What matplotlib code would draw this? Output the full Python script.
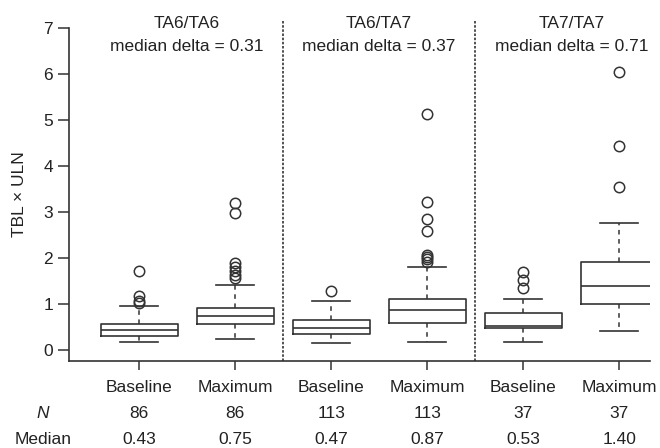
import matplotlib
matplotlib.use("Agg")
import matplotlib.pyplot as plt
from matplotlib.transforms import blended_transform_factory

plt.rcParams['font.family'] = ['Liberation Sans', 'DejaVu Sans']

groups = ["TA6/TA6", "TA6/TA7", "TA7/TA7"]
median_deltas = [0.31, 0.37, 0.71]
box_labels = ["Baseline", "Maximum", "Baseline", "Maximum", "Baseline", "Maximum"]
n_values = [86, 86, 113, 113, 37, 37]
medians = [0.43, 0.75, 0.47, 0.87, 0.53, 1.40]
q1 = [0.30, 0.565, 0.34, 0.59, 0.47, 1.00]
q3 = [0.565, 0.92, 0.645, 1.10, 0.80, 1.91]
whislo = [0.17, 0.245, 0.145, 0.17, 0.17, 0.41]
whishi = [0.96, 1.41, 1.06, 1.80, 1.12, 2.77]
outliers = [
    [1.03, 1.07, 1.17, 1.71],
    [1.56, 1.63, 1.72, 1.81, 1.90, 2.97, 3.20],
    [1.29],
    [1.92, 1.97, 2.02, 2.07, 2.59, 2.85, 3.21, 5.13],
    [1.35, 1.53, 1.70],
    [3.54, 4.44, 6.05],
]
yticks = [0, 1, 2, 3, 4, 5, 6, 7]

W, H = 660, 448
fig = plt.figure(figsize=(W / 100, H / 100), dpi=100)
ax = fig.add_axes([69 / W, 1 - 360.7 / H, (650 - 69) / W, (360.7 - 18.8) / H])

col = "#333333"
tcol = "#222222"
fs = 12.5
stats = []
for i in range(len(medians)):
    stats.append(dict(med=medians[i], q1=q1[i], q3=q3[i], whislo=whislo[i],
                      whishi=whishi[i], fliers=outliers[i]))
positions = list(range(1, len(medians) + 1))
ax.bxp(stats, positions=positions, widths=0.8, capwidths=0.4, showfliers=True,
       boxprops=dict(color=col, lw=1.2),
       medianprops=dict(color=col, lw=1.2),
       whiskerprops=dict(color=col, lw=1.1, linestyle=(0, (3, 3))),
       capprops=dict(color=col, lw=1.2),
       flierprops=dict(marker='o', markersize=7.5, markerfacecolor='none',
                       markeredgecolor=col, markeredgewidth=1.1))

ax.set_xlim(0.27, 6.32)
ax.set_ylim(-0.23, 7.2)
ax.set_yticks(yticks)
ax.set_yticklabels([str(t) for t in yticks])
ax.set_xticks(positions)
ax.set_xticklabels([])
ax.tick_params(axis='y', length=8, width=1.1, color=col, labelsize=fs, pad=3.5, labelcolor=tcol)
ax.tick_params(axis='x', length=6.5, width=1.1, color=col)
for s in ['top', 'right']:
    ax.spines[s].set_visible(False)
ax.spines['left'].set_bounds(-0.23, 7)
for s in ['left', 'bottom']:
    ax.spines[s].set_color(col)
    ax.spines[s].set_linewidth(1.2)

# group separators
for xs in [2.5, 4.5]:
    ax.vlines(xs, -0.23, 7.17, colors=col, linestyles=(0, (1.5, 1)), lw=1.2, clip_on=False)

# group titles
for g, (name, d) in enumerate(zip(groups, median_deltas)):
    xc = 1.5 + 2 * g
    ax.text(xc, 7.09, name, ha='center', va='center', fontsize=fs, color=tcol, clip_on=False)
    ax.text(xc, 6.59, f"median delta = {d:.2f}", ha='center', va='center', fontsize=fs,
            color=tcol)

tr = blended_transform_factory(ax.transData, fig.transFigure)
row_y = [1 - 391.5 / H, 1 - 417.5 / H, 1 - 443.8 / H]
for i, p in enumerate(positions):
    ax.text(p, row_y[0], box_labels[i], ha='center', va='baseline', fontsize=fs,
            color=tcol, transform=tr)
    ax.text(p, row_y[1], str(n_values[i]), ha='center', va='baseline', fontsize=fs,
            color=tcol, transform=tr)
    ax.text(p, row_y[2], f"{medians[i]:.2f}", ha='center', va='baseline', fontsize=fs,
            color=tcol, transform=tr)

fig.text(43 / W, row_y[1], "N", ha='center', va='baseline', fontsize=fs,
         style='italic', color=tcol)
fig.text(43 / W, row_y[2], "Median", ha='center', va='baseline', fontsize=fs,
         color=tcol)
fig.text(20 / W, 1 - 194 / H, "TBL × ULN", ha='center', va='center', rotation=90,
         fontsize=fs, color=tcol)

fig.savefig("out.png", dpi=100)
